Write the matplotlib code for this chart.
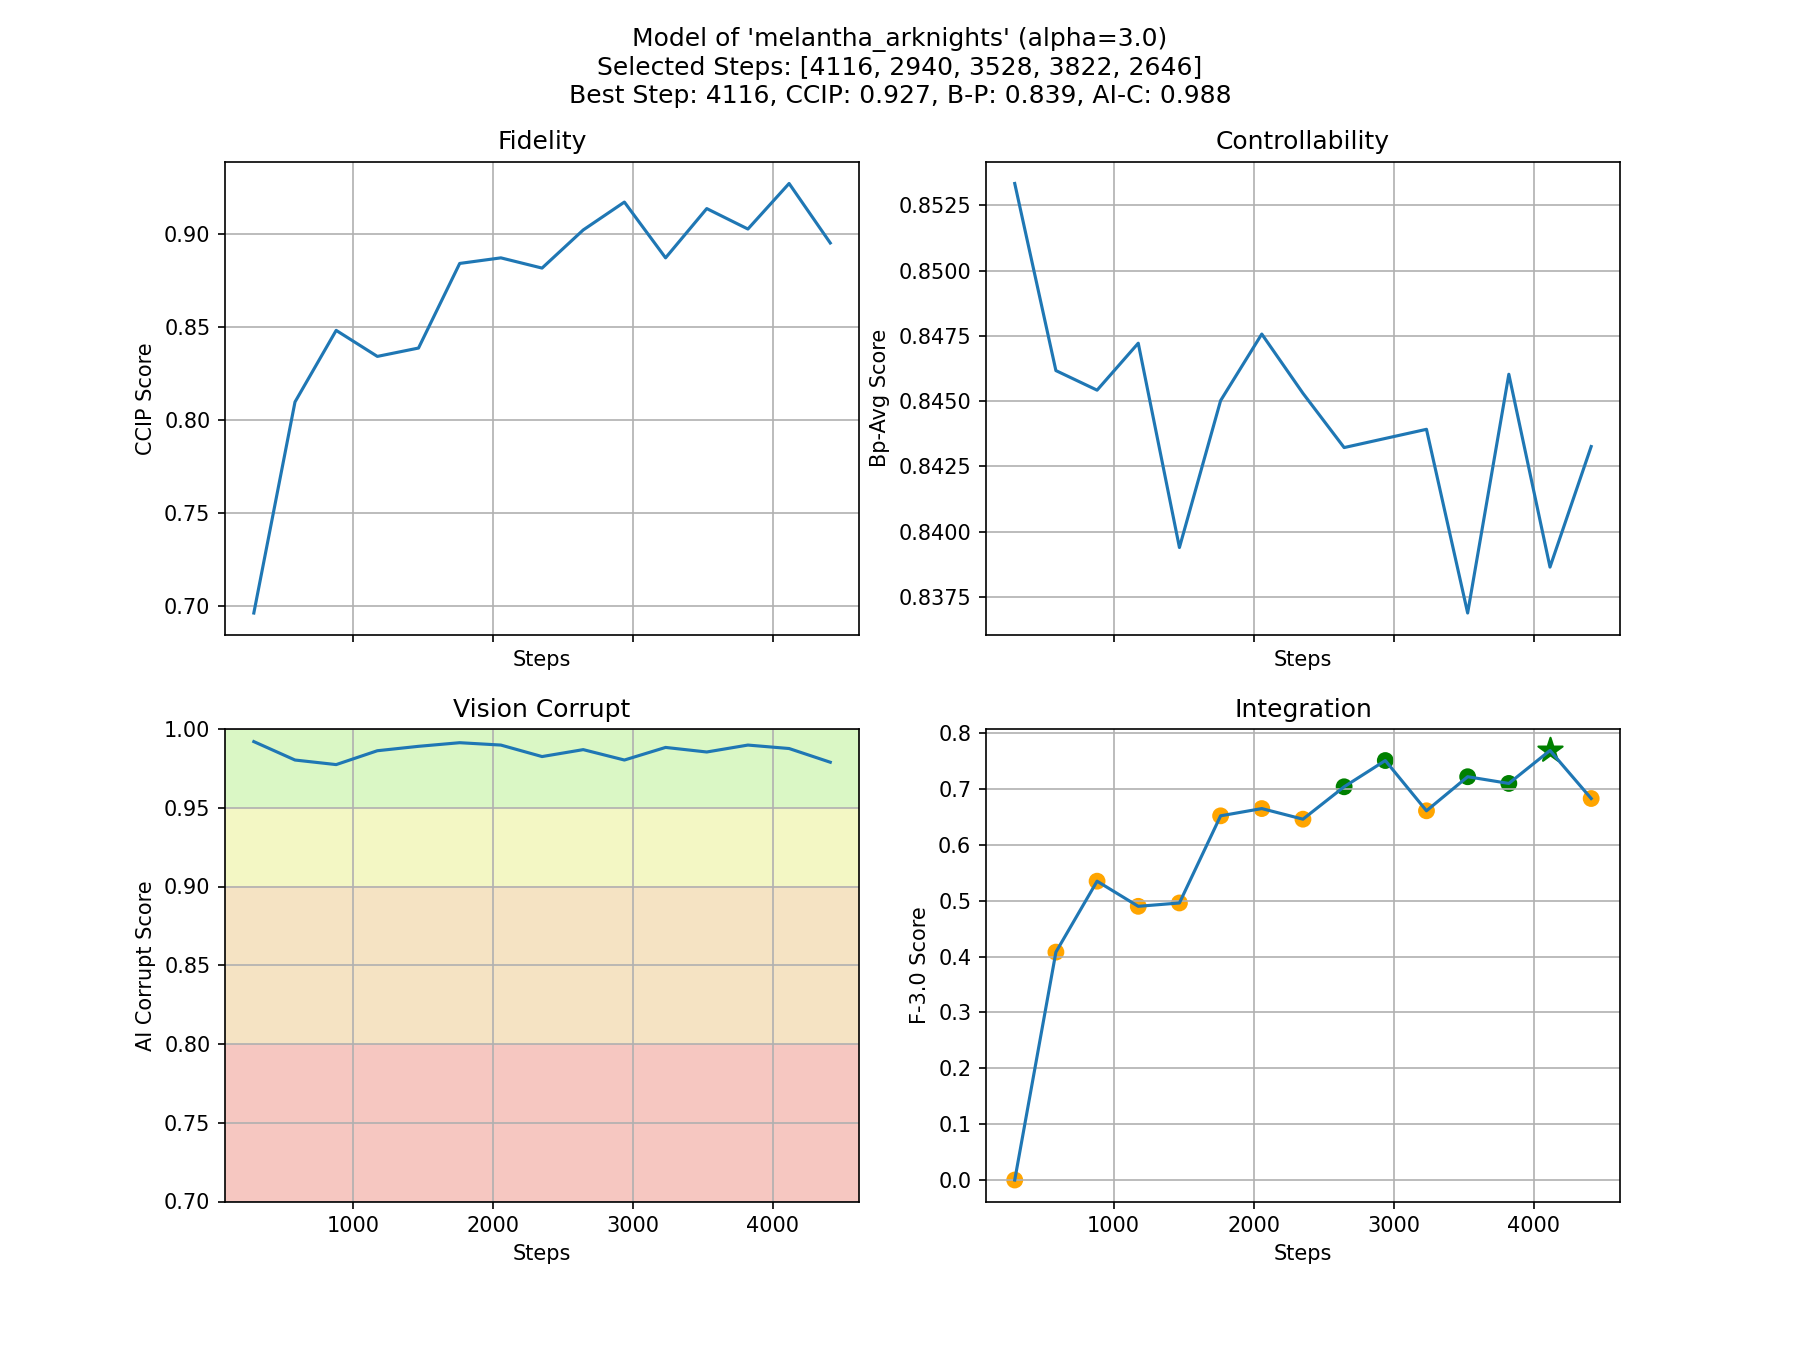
import matplotlib
matplotlib.use('Agg')
import matplotlib.pyplot as plt
import numpy as np

steps = [294, 588, 882, 1176, 1470, 1764, 2058, 2352, 2646, 2940,
         3234, 3528, 3822, 4116, 4410]
ccip = [0.696, 0.8095, 0.848, 0.834, 0.8385, 0.884, 0.887, 0.8815,
        0.902, 0.917, 0.887, 0.9135, 0.9025, 0.927, 0.895]
bp_avg = [0.85334, 0.84617, 0.84542, 0.84722, 0.83939, 0.84502, 0.84757,
          0.8453, 0.84322, 0.84357, 0.84392, 0.83688, 0.84603, 0.83864,
          0.84326]
ai_corrupt = [0.992, 0.9803, 0.9774, 0.9862, 0.989, 0.9913, 0.9898,
              0.9825, 0.9869, 0.9803, 0.9883, 0.9854, 0.9898, 0.9876,
              0.9789]
f_score = [0.0, 0.408, 0.535, 0.490, 0.496, 0.652, 0.665, 0.646, 0.704,
           0.751, 0.661, 0.722, 0.710, 0.769, 0.683]

selected_steps = [4116, 2940, 3528, 3822, 2646]
best_step = 4116

# quality bands for the corrupt score
bands = [(0.95, 1.0, '#daf7c5'), (0.9, 0.95, '#f3f7c4'),
         (0.8, 0.9, '#f5e3c3'), (0.0, 0.8, '#f6c7c1')]

fig, axes = plt.subplots(2, 2, figsize=(12, 9), sharex=True)
ax_ccip, ax_bp = axes[0]
ax_aic, ax_f = axes[1]

ax_ccip.plot(steps, ccip)
ax_ccip.set_title('Fidelity')
ax_ccip.set_xlabel('Steps')
ax_ccip.set_ylabel('CCIP Score')
ax_ccip.grid()

ax_bp.plot(steps, bp_avg)
ax_bp.set_title('Controllability')
ax_bp.set_xlabel('Steps')
ax_bp.set_ylabel('Bp-Avg Score')
ax_bp.grid()

for lo, hi, c in bands:
    ax_aic.axhspan(lo, hi, facecolor=c)
ax_aic.plot(steps, ai_corrupt)
ax_aic.set_ylim(0.7, 1.0)
ax_aic.set_title('Vision Corrupt')
ax_aic.set_xlabel('Steps')
ax_aic.set_ylabel('AI Corrupt Score')
ax_aic.grid()

colors = ['green' if s in selected_steps else 'orange' for s in steps]
normal = [i for i, s in enumerate(steps) if s != best_step]
best = steps.index(best_step)
ax_f.scatter(np.array(steps)[normal], np.array(f_score)[normal],
             c=np.array(colors)[normal], s=50)
ax_f.scatter([steps[best]], [f_score[best]], c='green', marker='*', s=150)
ax_f.plot(steps, f_score)
ax_f.set_title('Integration')
ax_f.set_xlabel('Steps')
ax_f.set_ylabel('F-3.0 Score')
ax_f.grid()

fig.suptitle("Model of 'melantha_arknights' (alpha=3.0)\n"
             "Selected Steps: [4116, 2940, 3528, 3822, 2646]\n"
             "Best Step: 4116, CCIP: 0.927, B-P: 0.839, AI-C: 0.988")

plt.savefig('out.png', dpi=150)
